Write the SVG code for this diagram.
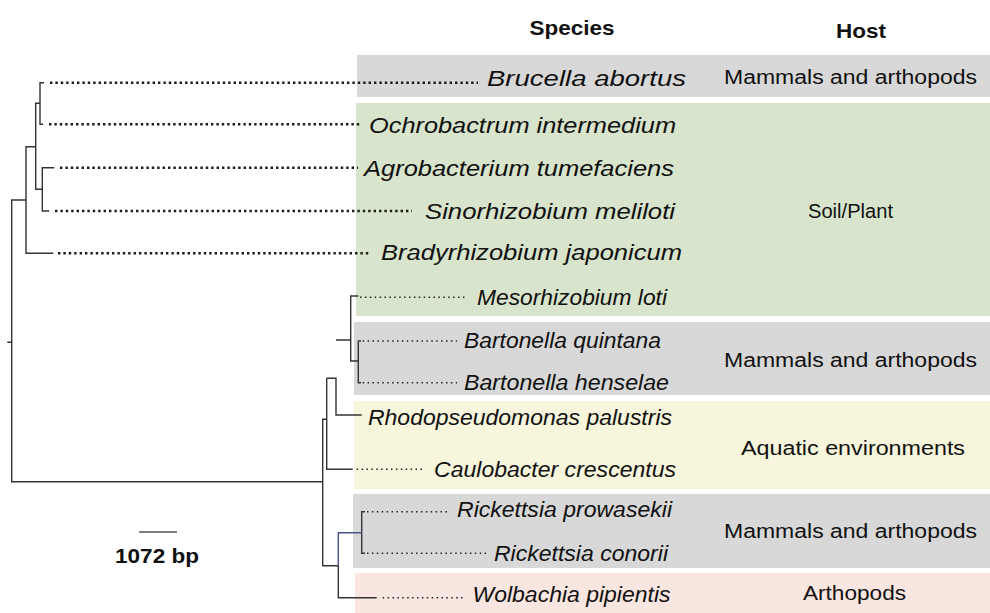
<svg xmlns="http://www.w3.org/2000/svg" width="990" height="613" viewBox="0 0 990 613">
<style>
.sp{font-family:"Liberation Sans",Arial,sans-serif;font-style:italic;font-size:22.5px;fill:#111}
.host{font-family:"Liberation Sans",Arial,sans-serif;font-size:20px;fill:#111;text-anchor:middle}
.hdr{font-family:"Liberation Sans",Arial,sans-serif;font-weight:bold;font-size:20.5px;fill:#111;text-anchor:middle}
.tree{fill:none;stroke:#333;stroke-width:1.4}
.blue{fill:none;stroke:#4a5088;stroke-width:1.4}
.dotb{fill:none;stroke:#1a1a1a;stroke-width:2.4;stroke-dasharray:2.4 3}
.dotf{fill:none;stroke:#222;stroke-width:1.5;stroke-dasharray:1.5 3.4}
.gray{fill:#d8d8d8}.green{fill:#d8e4cb}.yellow{fill:#f7f5dc}.pink{fill:#fae6e0}
</style>
<rect width="990" height="613" fill="#ffffff"/>
<g id="headers">
<text class="hdr" x="572" y="35" textLength="85" lengthAdjust="spacingAndGlyphs">Species</text>
<text class="hdr" x="861" y="38" textLength="50" lengthAdjust="spacingAndGlyphs">Host</text>
</g>
<g id="host-mammals-1"><rect class="gray" x="357" y="55" width="633" height="42"/><text class="host" x="850.5" y="83.5" textLength="253" lengthAdjust="spacingAndGlyphs">Mammals and arthopods</text></g>
<g id="host-soil"><rect class="green" x="356" y="103" width="634" height="213"/><text class="host" x="850.5" y="217.5" textLength="85" lengthAdjust="spacingAndGlyphs">Soil/Plant</text></g>
<g id="host-mammals-2"><rect class="gray" x="354" y="322" width="636" height="73"/><text class="host" x="850.5" y="366.5" textLength="253" lengthAdjust="spacingAndGlyphs">Mammals and arthopods</text></g>
<g id="host-aquatic"><rect class="yellow" x="354" y="401" width="636" height="88"/><text class="host" x="853" y="454.5" textLength="224" lengthAdjust="spacingAndGlyphs">Aquatic environments</text></g>
<g id="host-mammals-3"><rect class="gray" x="353" y="494" width="637" height="74"/><text class="host" x="850.5" y="538" textLength="253" lengthAdjust="spacingAndGlyphs">Mammals and arthopods</text></g>
<g id="host-arthopods"><rect class="pink" x="355" y="573" width="635" height="40"/><text class="host" x="854.5" y="600" textLength="103" lengthAdjust="spacingAndGlyphs">Arthopods</text></g>
<g id="connectors">
<path class="tree" d="M44,82.7H40V124.3H43M40,103.3H35.7V189.3H42.3M54.3,167.7H42.3V211H49.3M35.7,146.7H26V253.3H53.3M26,200H11.7V481.7H322.7M7.3,342.3H11.7"/>
<path class="tree" d="M326.7,419.3H322.7V565.7H338.3V597.7H376.7M326.7,378.3V469.3H352.7M326.7,378.3H336V415H361.7M336,340H350.7M358.3,296H350.7V361H358.3M361,341H358.3V382.7H361M365,511.7H361.7V553.3H365"/>
<path class="blue" d="M338.3,565.7V532.7H361.7"/>
<path class="dotb" d="M50,82.7H478M49,124.3H360M60,167.7H358M55,211H412M58,253.3H371"/>
<path class="dotf" d="M360,297.3H465M362.7,341H457M362.7,382.7H457M356.7,469.3H425M367,511.7H447M367,553.3H486M382.7,597.7H463"/>
</g>
<g id="sp-brucella"><text class="sp" x="487" y="85.7" textLength="199" lengthAdjust="spacingAndGlyphs">Brucella abortus</text></g>
<g id="sp-ochrobactrum"><text class="sp" x="369" y="133" textLength="307" lengthAdjust="spacingAndGlyphs">Ochrobactrum intermedium</text></g>
<g id="sp-agrobacterium"><text class="sp" x="364" y="176" textLength="310" lengthAdjust="spacingAndGlyphs">Agrobacterium tumefaciens</text></g>
<g id="sp-sinorhizobium"><text class="sp" x="425" y="219" textLength="250" lengthAdjust="spacingAndGlyphs">Sinorhizobium meliloti</text></g>
<g id="sp-bradyrhizobium"><text class="sp" x="381" y="260" textLength="301" lengthAdjust="spacingAndGlyphs">Bradyrhizobium japonicum</text></g>
<g id="sp-mesorhizobium"><text class="sp" x="477" y="305" textLength="190" lengthAdjust="spacingAndGlyphs">Mesorhizobium loti</text></g>
<g id="sp-bartonella-q"><text class="sp" x="464" y="348" textLength="197" lengthAdjust="spacingAndGlyphs">Bartonella quintana</text></g>
<g id="sp-bartonella-h"><text class="sp" x="464" y="390" textLength="205" lengthAdjust="spacingAndGlyphs">Bartonella henselae</text></g>
<g id="sp-rhodopseudomonas"><text class="sp" x="368" y="425" textLength="304" lengthAdjust="spacingAndGlyphs">Rhodopseudomonas palustris</text></g>
<g id="sp-caulobacter"><text class="sp" x="434" y="477" textLength="242" lengthAdjust="spacingAndGlyphs">Caulobacter crescentus</text></g>
<g id="sp-rickettsia-p"><text class="sp" x="457" y="517" textLength="215" lengthAdjust="spacingAndGlyphs">Rickettsia prowasekii</text></g>
<g id="sp-rickettsia-c"><text class="sp" x="494" y="560.5" textLength="174" lengthAdjust="spacingAndGlyphs">Rickettsia conorii</text></g>
<g id="sp-wolbachia"><text class="sp" x="472.5" y="602" textLength="198" lengthAdjust="spacingAndGlyphs">Wolbachia pipientis</text></g>
<g id="scale">
<path d="M139,532H177" stroke="#555" stroke-width="1.6"/>
<text x="115" y="563" font-family="Liberation Sans,Arial,sans-serif" font-weight="bold" font-size="21px" fill="#111" textLength="84" lengthAdjust="spacingAndGlyphs">1072 bp</text>
</g>
</svg>
